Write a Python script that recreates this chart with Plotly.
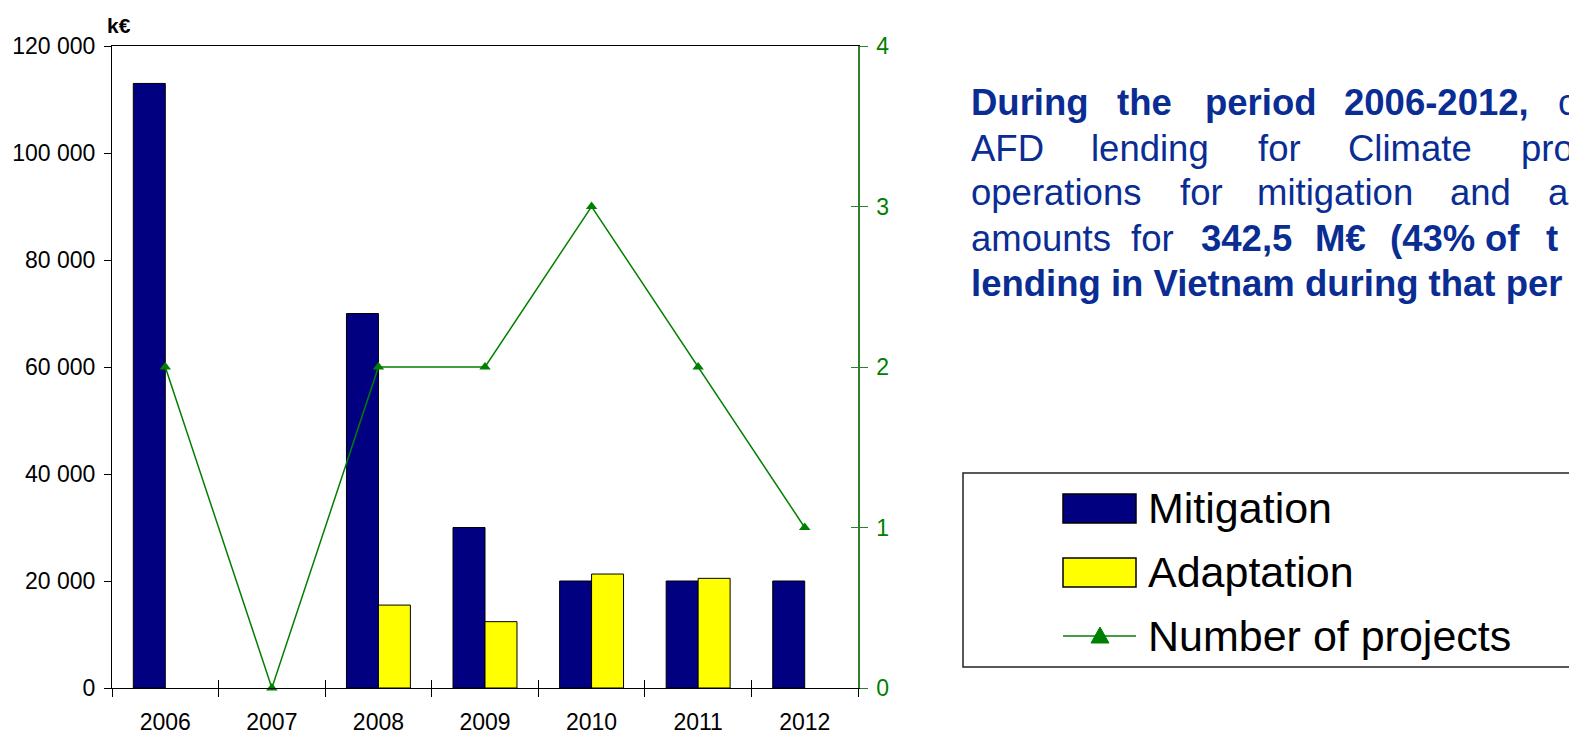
import plotly.graph_objects as go

# ---------------- data ----------------
years = ["2006", "2007", "2008", "2009", "2010", "2011", "2012"]
mitigation = [113000, None, 70000, 30000, 20000, 20000, 20000]
adaptation = [None, None, 15500, 12400, 21300, 20500, None]
n_projects = [2, 0, 2, 2, 3, 2, 1]
series_names = ["Mitigation", "Adaptation", "Number of projects"]

y_tickvals = [0, 20000, 40000, 60000, 80000, 100000, 120000]
y_ticktext = ["0", "20 000", "40 000", "60 000", "80 000", "100 000", "120 000"]
y2_tickvals = [0, 1, 2, 3, 4]
unit_label = "k€"

text_lines = [
    [("During", True, 970), ("the", True, 1116), ("period", True, 1204),
     ("2006-2012,", True, 1343), ("c", False, 1557)],
    [("AFD", False, 970), ("lending", False, 1090), ("for", False, 1257),
     ("Climate", False, 1347), ("pro", False, 1520)],
    [("operations", False, 970), ("for", False, 1179), ("mitigation", False, 1256),
     ("and", False, 1449), ("ad", False, 1547)],
    [("amounts", False, 970), ("for", False, 1130), ("342,5", True, 1200),
     ("M€", True, 1314), ("(43%", True, 1389), ("of", True, 1484), ("t", True, 1545)],
    [("lending in Vietnam during that per", True, 970)],
]

# ---------------- geometry ----------------
W, H = 1569, 734
L, R, T, B = 112, 858, 46, 688
PW, PH = R - L, B - T


def px(x):
    return (x - L) / PW


def py(y):
    return (B - y) / PH


NAVY = "#000080"
YEL = "#FFFF00"
GREEN = "#008000"
GREEN_AX = "#2f7f2f"
TXT_BLUE = "#0a2d94"
FONT = "Arial, Liberation Sans, sans-serif"

fig = go.Figure()
fig.add_trace(go.Bar(x=years, y=mitigation, name=series_names[0],
                     marker=dict(color=NAVY, line=dict(color="black", width=1))))
fig.add_trace(go.Bar(x=years, y=adaptation, name=series_names[1],
                     marker=dict(color=YEL, line=dict(color="black", width=1))))
fig.add_trace(go.Scatter(x=years, y=n_projects, yaxis="y2", name=series_names[2],
                         mode="lines+markers", cliponaxis=False,
                         line=dict(color=GREEN, width=1.5),
                         marker=dict(symbol="triangle-up", size=10, color=GREEN)))
# invisible helpers for crossing tick overlays
fig.add_trace(go.Scatter(x=years, y=[0] * len(years), xaxis="x3", yaxis="y",
                         mode="markers", marker=dict(opacity=0), hoverinfo="skip",
                         showlegend=False))
fig.add_trace(go.Scatter(x=years, y=n_projects, xaxis="x", yaxis="y3",
                         mode="markers", marker=dict(opacity=0), hoverinfo="skip",
                         showlegend=False))

fig.update_layout(
    width=W, height=H,
    margin=dict(l=L, r=W - R, t=T, b=H - B, pad=0, autoexpand=False),
    paper_bgcolor="white", plot_bgcolor="white",
    showlegend=False,
    barmode="group", bargap=0.4, bargroupgap=0,
    font=dict(family=FONT, size=23, color="black"),
    xaxis=dict(type="category", categoryorder="array", categoryarray=years,
               range=[-0.5, 6.5], showgrid=False, zeroline=False, automargin=False,
               showline=True, linecolor="black", linewidth=1, mirror=True,
               ticks="outside", tickson="boundaries", ticklen=8, tickcolor="black",
               tickfont=dict(size=23, color="black"), ticklabelstandoff=13),
    xaxis3=dict(type="category", categoryorder="array", categoryarray=years,
                range=[-0.5, 6.5], overlaying="x", anchor="y", side="bottom",
                showgrid=False, zeroline=False, showline=False, automargin=False,
                ticks="inside", tickson="boundaries", ticklen=8, tickcolor="black",
                showticklabels=False),
    yaxis=dict(range=[0, 120000], tickvals=y_tickvals, ticktext=y_ticktext,
               showgrid=False, zeroline=False, showline=True, linecolor="black",
               linewidth=1, ticks="outside", ticklen=7, tickcolor="black",
               automargin=False,
               tickfont=dict(size=23, color="black"), ticklabelstandoff=4),
    yaxis2=dict(range=[0, 4], tickvals=y2_tickvals, overlaying="y", side="right",
                anchor="x", showgrid=False, zeroline=False, showline=True,
                linecolor=GREEN_AX, linewidth=1.5, ticks="outside", ticklen=8,
                automargin=False,
                tickcolor=GREEN_AX, tickfont=dict(size=23, color=GREEN),
                ticklabelstandoff=4),
    yaxis3=dict(range=[0, 4], tickvals=y2_tickvals, overlaying="y", side="right",
                anchor="x", showgrid=False, zeroline=False, showline=False,
                automargin=False,
                ticks="inside", ticklen=7, tickcolor=GREEN_AX, showticklabels=False),
)

annotations = []
shapes = []

# unit label
annotations.append(dict(text="<b>" + unit_label + "</b>", x=px(119), y=py(25),
                        xref="paper", yref="paper", showarrow=False,
                        xanchor="center", yanchor="middle",
                        font=dict(family=FONT, size=21, color="black")))

# justified text block
line_y = [103, 148, 193, 238, 283]
for yy, words in zip(line_y, text_lines):
    for word, bold, xx in words:
        annotations.append(dict(text=("<b>%s</b>" % word) if bold else word,
                                x=px(xx - 1), y=py(yy), xref="paper", yref="paper",
                                showarrow=False, xanchor="left", yanchor="middle",
                                font=dict(family=FONT, size=36.5, color=TXT_BLUE)))

# manual legend
shapes.append(dict(type="rect", xref="paper", yref="paper",
                   x0=px(963), x1=px(1600), y0=py(667), y1=py(473),
                   line=dict(color="#222", width=1.5), fillcolor="rgba(0,0,0,0)"))
rows = [508, 572, 636]
shapes.append(dict(type="rect", xref="paper", yref="paper",
                   x0=px(1063), x1=px(1136), y0=py(523), y1=py(494),
                   line=dict(color="black", width=1.5), fillcolor=NAVY))
shapes.append(dict(type="rect", xref="paper", yref="paper",
                   x0=px(1063), x1=px(1136), y0=py(587), y1=py(558),
                   line=dict(color="black", width=1.5), fillcolor=YEL))
shapes.append(dict(type="line", xref="paper", yref="paper",
                   x0=px(1063), x1=px(1136), y0=py(636), y1=py(636),
                   line=dict(color=GREEN, width=1.5)))
tri = "M %f,%f L %f,%f L %f,%f Z" % (px(1091), py(643), px(1109), py(643),
                                      px(1100), py(627))
shapes.append(dict(type="path", xref="paper", yref="paper", path=tri,
                   fillcolor=GREEN, line=dict(color=GREEN, width=1)))
for name, yy in zip(series_names, rows):
    annotations.append(dict(text=name, x=px(1146), y=py(yy), xref="paper",
                            yref="paper", showarrow=False, xanchor="left",
                            yanchor="middle",
                            font=dict(family=FONT, size=43, color="black")))

fig.update_layout(annotations=annotations, shapes=shapes)

fig.write_html("out.html", config={"displayModeBar": False},
               post_script="document.body.style.margin='0';")
